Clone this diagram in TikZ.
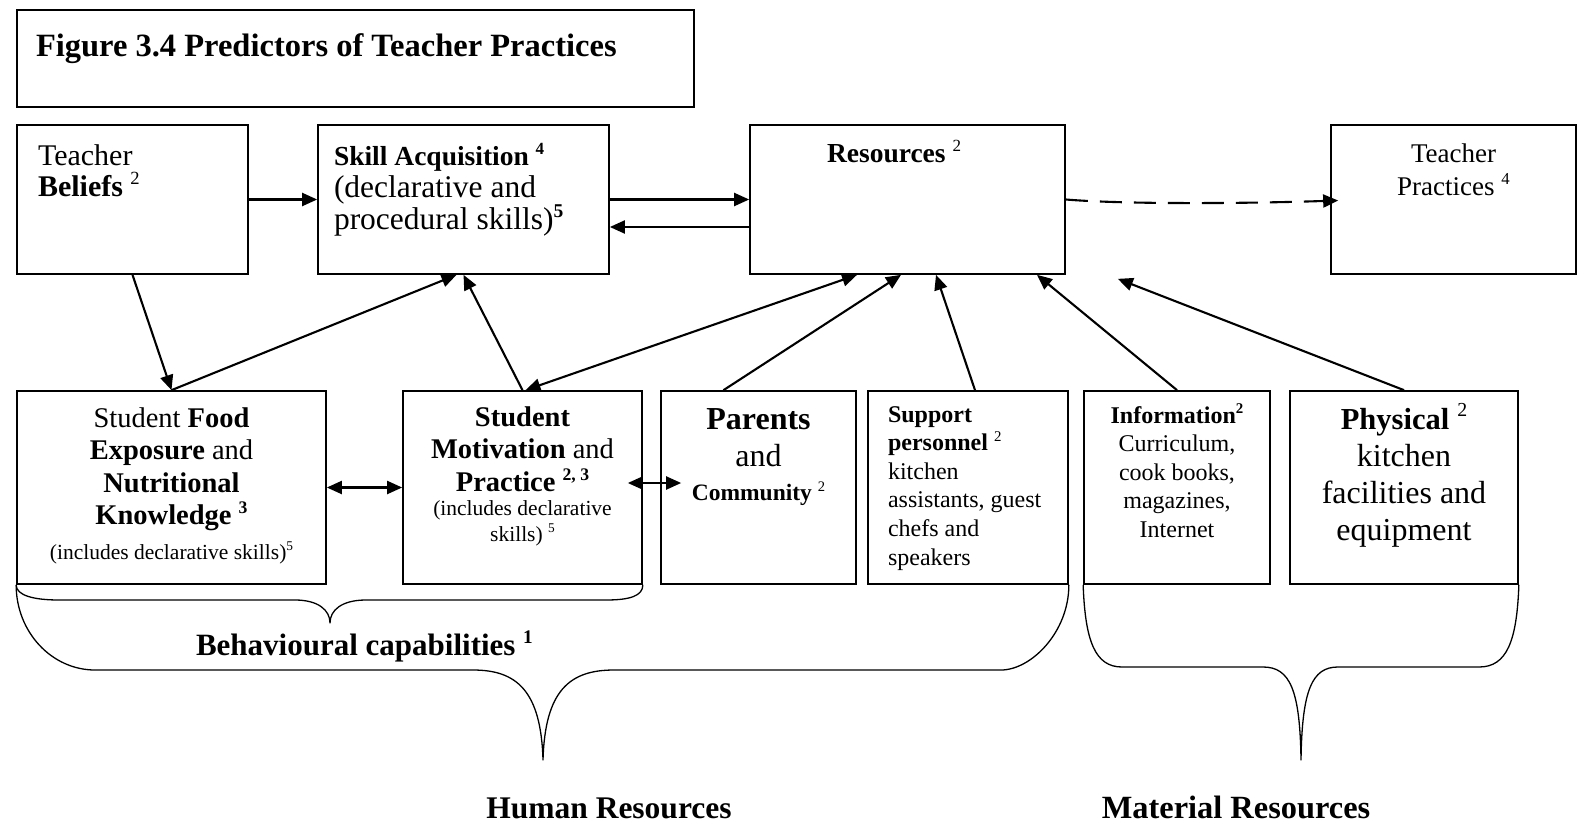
\documentclass[tikz,border=0pt]{standalone}
\usepackage{fontspec}
\setmainfont{Liberation Serif}
\usetikzlibrary{arrows.meta,calc,fit}
\makeatletter
% small raised figure that does not change the line height
\newcommand\sups[1]{\smash{\raisebox{0.38em}{\fontsize{\fpeval{0.62*\f@size}}{1}\selectfont #1}}}
\makeatother
% #1 alignment, #2 font size, #3 line spacing, #4 lines
\newcommand\stack[4]{{\fontsize{#2}{#3}\selectfont\begin{tabular}[t]{@{}#1@{}}#4\end{tabular}}}
\begin{document}
\begin{tikzpicture}[x=1pt,y=-1pt,
  box/.style={draw,line width=1.7pt,inner sep=0pt},
  txt/.style={inner sep=0pt,outer sep=0pt},
  link/.style={line width=2.1pt,-{Triangle[length=15pt,width=13pt]}},
  twoway/.style={line width=2.1pt,{Triangle[length=15pt,width=13pt]}-{Triangle[length=15pt,width=13pt]}},
  brace/.style={line width=1.3pt,line join=round}]
\useasboundingbox (0,0) rectangle (1578,824);

% boxes
\node[box,fit={(17,10)(694,107)}] (title) {};
\node[box,fit={(17,125)(248,274)}] (beliefs) {};
\node[box,fit={(318,125)(609,274)}] (skill) {};
\node[box,fit={(750,125)(1065,274)}] (res) {};
\node[box,fit={(1331,125)(1576,274)}] (prac) {};
\node[box,fit={(17,391)(326,584)}] (food) {};
\node[box,fit={(403,391)(642,584)}] (motiv) {};
\node[box,fit={(661,391)(856,584)}] (parents) {};
\node[box,fit={(868,391)(1068,584)}] (support) {};
\node[box,fit={(1084,391)(1270,584)}] (info) {};
\node[box,fit={(1290,391)(1518,584)}] (phys) {};

% texts
\node[txt,anchor=base west] (titletext) at (36,57) {\fontsize{32.5}{36}\selectfont\bfseries Figure 3.4 Predictors of Teacher Practices};
\node[txt,anchor=base west] (beliefstext) at (38,165) {\stack{l}{30}{31}{Teacher\\\textbf{Beliefs} \sups{2}}};
\node[txt,anchor=base west] (skilltext) at (334,165) {\stack{l}{31.5}{32}{{\fontsize{27.5}{30}\selectfont\bfseries Skill Acquisition \sups{4}}\\(declarative and\\procedural skills)\sups{\bfseries 5}}};
\node[txt,anchor=base west] (restext) at (827,162) {\fontsize{27.5}{30}\selectfont\textbf{Resources} \sups{2}};
\node[txt,anchor=base] (practext) at (1453.5,162) {\stack{c}{27}{33}{Teacher\\Practices \sups{4}}};
\node[txt,anchor=base] (foodtext) at (171.5,427) {\stack{c}{28.5}{32.5}{Student \textbf{Food}\\\textbf{Exposure} and\\\textbf{Nutritional}\\\textbf{Knowledge} \sups{\bfseries 3}\\\noalign{\vskip2pt}{\fontsize{21.5}{24}\selectfont (includes declarative skills)\sups{5}}}};
\node[txt,anchor=base] (motivtext) at (522.5,426) {\stack{c}{28.5}{32.5}{\textbf{Student}\\\textbf{Motivation} and\\\textbf{Practice} \sups{\bfseries 2, 3}}};
\node[txt,anchor=base] (motivsmall) at (522.5,515) {\stack{c}{21.5}{26}{(includes declarative\\skills) \sups{5}}};
\node[txt,anchor=base] (parentstext) at (758.5,429) {\stack{c}{32}{37}{\textbf{Parents}\\and\\\noalign{\vskip-3pt}{\fontsize{23.5}{26}\selectfont\textbf{Community} \sups{2}}}};
\node[txt,anchor=base west] (supporttext) at (888,422) {\stack{l}{24}{28.6}{\textbf{Support}\\\textbf{personnel} \sups{2}\\kitchen\\assistants, guest\\chefs and\\speakers}};
\node[txt,anchor=base] (infotext) at (1177,423) {\stack{c}{24}{28.6}{\textbf{Information}\sups{\bfseries 2}\\Curriculum,\\cook books,\\magazines,\\Internet}};
\node[txt,anchor=base] (phystext) at (1404,429) {\stack{c}{32}{37}{{\fontsize{30.5}{33}\selectfont\textbf{Physical}} \sups{2}\\kitchen\\facilities and\\equipment}};
\node[txt,anchor=base west] (behavtext) at (196,655) {\fontsize{31}{34}\selectfont\bfseries Behavioural capabilities \sups{1}};
\node[txt,anchor=base] (humantext) at (609,818) {\fontsize{31.5}{34}\selectfont\bfseries Human Resources};
\node[txt,anchor=base] (mattext) at (1236,818) {\fontsize{32.4}{34}\selectfont\bfseries Material Resources};

% connectors
\draw[link] (beliefs.east) -- (skill.west);
\draw[link] (skill.east) -- (res.west);
\draw[link] ($(res.west)+(0,27.5)$) -- ($(skill.east)+(0,27.5)$);
\draw[link,dash pattern=on 22pt off 12pt] (res.east) .. controls +(60,5) and +(-90,3) .. ($(prac.west)+(8,1)$);
\draw[link] (beliefs.south) -- (food.north);
\draw[link] (food.north) -- ($(skill.south)+(-7,0)$);
\draw[link] (motiv.north) -- (skill.south);
\draw[twoway] ($(res.south)+(-50.5,0)$) -- ($(motiv.north)+(3,0)$);
\draw[link] ($(parents.north)+(-35,0)$) -- ($(res.south)+(-6.5,0)$);
\draw[link] ($(support.north)+(7,0)$) -- ($(res.south)+(28.5,0)$);
\draw[link] (info.north) -- ($(res.south)+(129.5,0)$);
\coordinate (physend) at ($(res.south east)+(52,4)$);
\draw[link] (phys.north) -- (physend);
\draw[twoway] (food.east) -- (motiv.west);
\draw[twoway] ($(motiv.east)+(-15,-4.5)$) -- ($(parents.west)+(21,-4.5)$);

% braces
\draw[brace] (food.south west) .. controls +(0,11) and +(-24,0) .. (59,600) -- (295,600)
  .. controls (318,600) and (330,610) .. (330,623)
  .. controls (330,610) and (342,600) .. (366,600) -- (606,600)
  .. controls +(24,0) and +(0,11) .. (motiv.south east);
\draw[brace] (food.south west) .. controls +(0,47.5) and +(-43,0) .. (95,670) -- (473,670)
  .. controls (516,670) and (541,690) .. (543,760)
  .. controls (545,690) and (570,670) .. (614,670) -- (1001,670)
  .. controls +(30,0) and +(0,47.5) .. (support.south east);
\draw[brace] (info.south west) .. controls +(2,56) and +(-27,0) .. (1122,667) -- (1263,667)
  .. controls (1290,667) and (1300,690) .. (1301,760)
  .. controls (1302,690) and (1312,667) .. (1338,667) -- (1479,667)
  .. controls +(28,0) and +(-2,56) .. (phys.south east);
\end{tikzpicture}
\end{document}
